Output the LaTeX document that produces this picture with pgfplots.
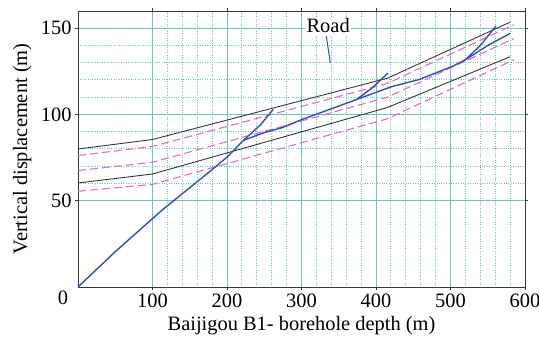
\documentclass[border=0pt]{standalone}
\usepackage{fontspec}
\setmainfont{Liberation Serif}
\usepackage{pgfplots}
\pgfplotsset{compat=1.18}
\definecolor{gridteal}{RGB}{100,200,192}
\definecolor{pinkd}{RGB}{218,110,200}
\definecolor{blued}{RGB}{45,80,195}
\definecolor{blk}{RGB}{55,55,55}
\begin{document}
\begin{tikzpicture}[font=\fontsize{20.5}{24}\selectfont]
\begin{axis}[
  scale only axis, width=447bp, height=276bp,
  at={(78bp,52bp)}, anchor=south west,
  xmin=0, xmax=600, ymin=0, ymax=160,
  xtick={100,200,...,600}, ytick={50,100,150},
  minor x tick num=4, minor y tick num=4,
  grid=both,
  major grid style={gridteal, line width=1bp},
  minor grid style={gridteal, dotted, line width=1bp},
  axis line style={blk, line width=0.9bp},
  tick style={blk, line width=0.7bp},
  tick align=outside, major tick length=3bp, minor tick length=0bp,
  /pgf/number format/assume math mode=true,
  xlabel={Baijigou B1- borehole depth (m)},
  ylabel={Vertical displacement (m)},
  xlabel style={at={(axis description cs:0.5,0)}, anchor=base, yshift=-43bp},
  ylabel style={at={(axis description cs:-0.125,0.5)}, anchor=center},
  clip=false,
]
% black boundary lines
\addplot[blk, line width=0.9bp] coordinates {(0,80) (100,85.5) (415,121) (580,153.5)};
\addplot[blk, line width=0.9bp] coordinates {(0,60.3) (100,65.5) (415,104) (580,133.5)};
% pink dashed lines
\addplot[pinkd, line width=1.1bp, dash pattern=on 8bp off 4bp] coordinates {(0,76.2) (100,81.5) (415,118) (585,152)};
\addplot[pinkd, line width=1.1bp, dash pattern=on 8bp off 4bp] coordinates {(0,67.5) (100,72.3) (415,110) (585,144)};
\addplot[pinkd, line width=1.1bp, dash pattern=on 8bp off 4bp] coordinates {(0,55.5) (100,59.5) (415,97.5) (585,131.7)};
% blue steep line
\addplot[blued, line width=1.4bp] coordinates {(0,0) (50,20.5) (113.5,44.8) (171.6,65.1) (201.5,75.8) (222,85) (245,94) (262,103)};
% blue main line
\addplot[blued, line width=1.4bp] coordinates {(222,85) (250,89.5) (275,92.5) (300,97) (338,103) (374,108.7) (420,116) (458,120.3) (503,128) (521,132) (550,140) (580,147)};
% branches
\addplot[blued, line width=1.4bp] coordinates {(374,108.7) (395,115.5) (416,124)};
\addplot[blued, line width=1.4bp] coordinates {(521,132) (542,141) (561,151.3)};
% road leader
\addplot[blued, line width=1bp] coordinates {(333.3,145.5) (338.7,130)};
\node[fill=white, inner sep=1.5bp] at (axis cs:335.8,151.5) {Road};
\node[anchor=north, inner sep=0.333em] at (rel axis cs:0,0) [xshift=-15bp] {0};
\end{axis}
\pgfresetboundingbox
\path (0,0) rectangle (539bp,339bp);
\end{tikzpicture}
\end{document}
